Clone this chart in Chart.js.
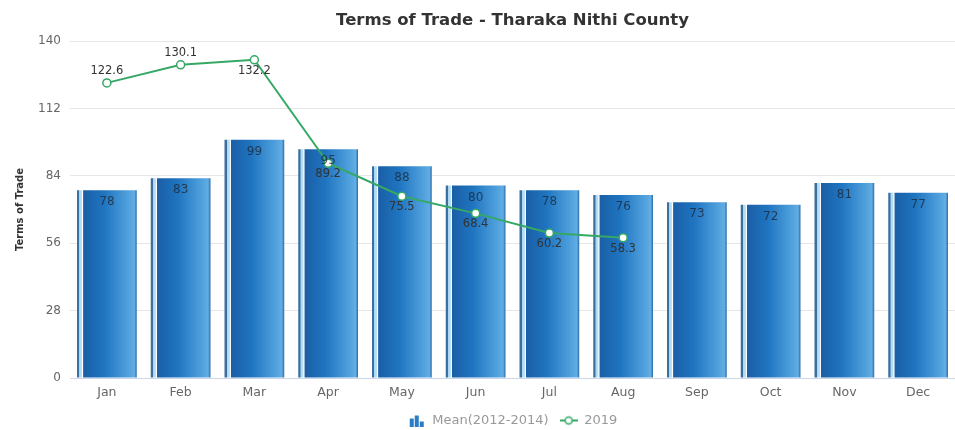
<!DOCTYPE html>
<html>
<head>
<meta charset="utf-8">
<script src="https://cdn.jsdelivr.net/npm/chart.js@4/dist/chart.umd.min.js"></script>
<style>
  html, body { margin: 0; padding: 0; background: #fff; overflow: hidden; }
  #wrap { width: 955px; height: 430px; }
</style>
</head>
<body>
<div id="wrap"><canvas id="mychart"></canvas></div>
<script>
var months = ['Jan', 'Feb', 'Mar', 'Apr', 'May', 'Jun', 'Jul', 'Aug', 'Sep', 'Oct', 'Nov', 'Dec'];
var meanValues = [78, 83, 99, 95, 88, 80, 78, 76, 73, 72, 81, 77];
var values2019 = [122.6, 130.1, 132.2, 89.2, 75.5, 68.4, 60.2, 58.3, null, null, null, null];
var yTicks = [0, 28, 56, 84, 112, 140];

var barPct = 0.81;
var fontFam = '"DejaVu Sans", Verdana, sans-serif';

// gradient for each bar, left to right like a cylinder
function barFill(ctx) {
  var chart = ctx.chart;
  var xs = chart.scales.x;
  if (!chart.chartArea || !xs) return '#1f74c0';
  var cx = xs.getPixelForValue(ctx.dataIndex);
  var w = xs.width / months.length * barPct;
  var g = chart.ctx.createLinearGradient(cx - w / 2, 0, cx + w / 2, 0);
  g.addColorStop(0, '#3a6f9e');
  g.addColorStop(0.035, '#3a6f9e');
  g.addColorStop(0.04, '#a9d6f2');
  g.addColorStop(0.085, '#bfe2f7');
  g.addColorStop(0.09, '#ffffff');
  g.addColorStop(0.1, '#ffffff');
  g.addColorStop(0.11, '#1a5fa6');
  g.addColorStop(0.45, '#1f74c0');
  g.addColorStop(0.85, '#4fa0dc');
  g.addColorStop(0.96, '#62ade3');
  g.addColorStop(1, '#2a6aa8');
  return g;
}

function makeBarIcon() {
  var c = document.createElement('canvas');
  c.width = 16; c.height = 12;
  var x = c.getContext('2d');
  x.fillStyle = '#2a7cc4';
  x.fillRect(1, 4, 4, 8);
  x.fillRect(6, 1, 4, 11);
  x.fillRect(11, 7, 4, 5);
  return c;
}

function makeLineIcon() {
  var c = document.createElement('canvas');
  c.width = 18; c.height = 12;
  var x = c.getContext('2d');
  x.strokeStyle = '#35a866';
  x.lineWidth = 2;
  x.beginPath(); x.moveTo(0, 6); x.lineTo(18, 6); x.stroke();
  x.fillStyle = '#fff';
  x.lineWidth = 1.5;
  x.beginPath(); x.arc(9, 6, 3.5, 0, Math.PI * 2); x.fill(); x.stroke();
  return c;
}

var legendIcons = [makeBarIcon(), makeLineIcon()];

// value labels: bars inside at the top, line points above or below
var valueLabels = {
  id: 'valueLabels',
  afterDatasetsDraw: function(chart) {
    var ctx = chart.ctx;
    ctx.save();
    ctx.textAlign = 'center';
    ctx.textBaseline = 'middle';

    ctx.font = '12px ' + fontFam;
    var barMeta = chart.getDatasetMeta(0);
    ctx.fillStyle = 'rgba(30,40,55,0.8)';
    barMeta.data.forEach(function(el, i) {
      ctx.fillText(meanValues[i], el.x, el.y + 12);
    });

    ctx.font = '11.5px ' + fontFam;
    var lineMeta = chart.getDatasetMeta(1);
    ctx.fillStyle = '#333';
    lineMeta.data.forEach(function(el, i) {
      var v = values2019[i];
      if (v === null) return;
      var next = values2019[i + 1];
      var above = next !== null && next !== undefined && next > v;
      ctx.fillText(v.toFixed(1), el.x, above ? el.y - 12 : el.y + 11);
    });
    ctx.restore();
  }
};

var chartdata = {
  labels: months,
  datasets: [
    {
      type: 'bar',
      label: 'Mean(2012-2014)',
      data: meanValues,
      backgroundColor: barFill,
      borderWidth: 0,
      categoryPercentage: 1,
      barPercentage: barPct,
      order: 1
    },
    {
      type: 'line',
      label: '2019',
      data: values2019,
      borderColor: '#35a866',
      borderWidth: 2,
      backgroundColor: '#ffffff',
      pointStyle: 'circle',
      pointBackgroundColor: '#ffffff',
      pointBorderColor: '#35a866',
      pointBorderWidth: 1.5,
      pointRadius: 4,
      tension: 0,
      spanGaps: false,
      order: 0
    }
  ]
};

var ctx = document.getElementById('mychart');

var barGraph = new Chart(ctx, {
  type: 'bar',
  data: chartdata,
  plugins: [valueLabels],
  options: {
    responsive: true,
    maintainAspectRatio: false,
    animation: false,
    layout: { autoPadding: false, padding: { left: 0, right: 0, top: 0, bottom: -7 } },
    plugins: {
      title: {
        display: true,
        text: 'Terms of Trade - Tharaka Nithi County',
        fullSize: false,
        color: '#333',
        font: { family: fontFam, size: 16.5, weight: 'bold' },
        padding: { top: 11, bottom: 10.2 }
      },
      legend: {
        position: 'bottom',
        fullSize: false,
        labels: {
          usePointStyle: true,
          pointStyleWidth: 18,
          color: '#999',
          font: { family: fontFam, size: 13 },
          padding: 11,
          generateLabels: function(chart) {
            var items = Chart.defaults.plugins.legend.labels.generateLabels(chart);
            items.sort(function(a, b) { return a.datasetIndex - b.datasetIndex; });
            items.forEach(function(it) { it.pointStyle = legendIcons[it.datasetIndex]; });
            return items;
          }
        }
      },
      tooltip: { enabled: false }
    },
    scales: {
      x: {
        grid: { display: false, drawTicks: false },
        border: { display: true, color: '#ccd6eb', width: 1 },
        ticks: {
          color: '#666',
          font: { family: fontFam, size: 12.5 },
          padding: 7.5,
          maxRotation: 0
        },
        afterFit: function(scale) { scale.height = 25; }
      },
      y: {
        min: 0,
        max: 140,
        afterBuildTicks: function(scale) {
          scale.ticks = yTicks.map(function(v) { return { value: v }; });
        },
        afterFit: function(scale) { scale.width = 70; },
        grid: { color: '#e6e6e6', drawTicks: false },
        border: { display: false },
        ticks: {
          color: '#666',
          font: { family: fontFam, size: 12 },
          padding: 9
        },
        title: {
          display: true,
          text: 'Terms of Trade',
          color: '#333',
          font: { family: fontFam, size: 10, weight: 'bold' },
          padding: { top: 14, bottom: 0 }
        }
      }
    }
  }
});
</script>
</body>
</html>
